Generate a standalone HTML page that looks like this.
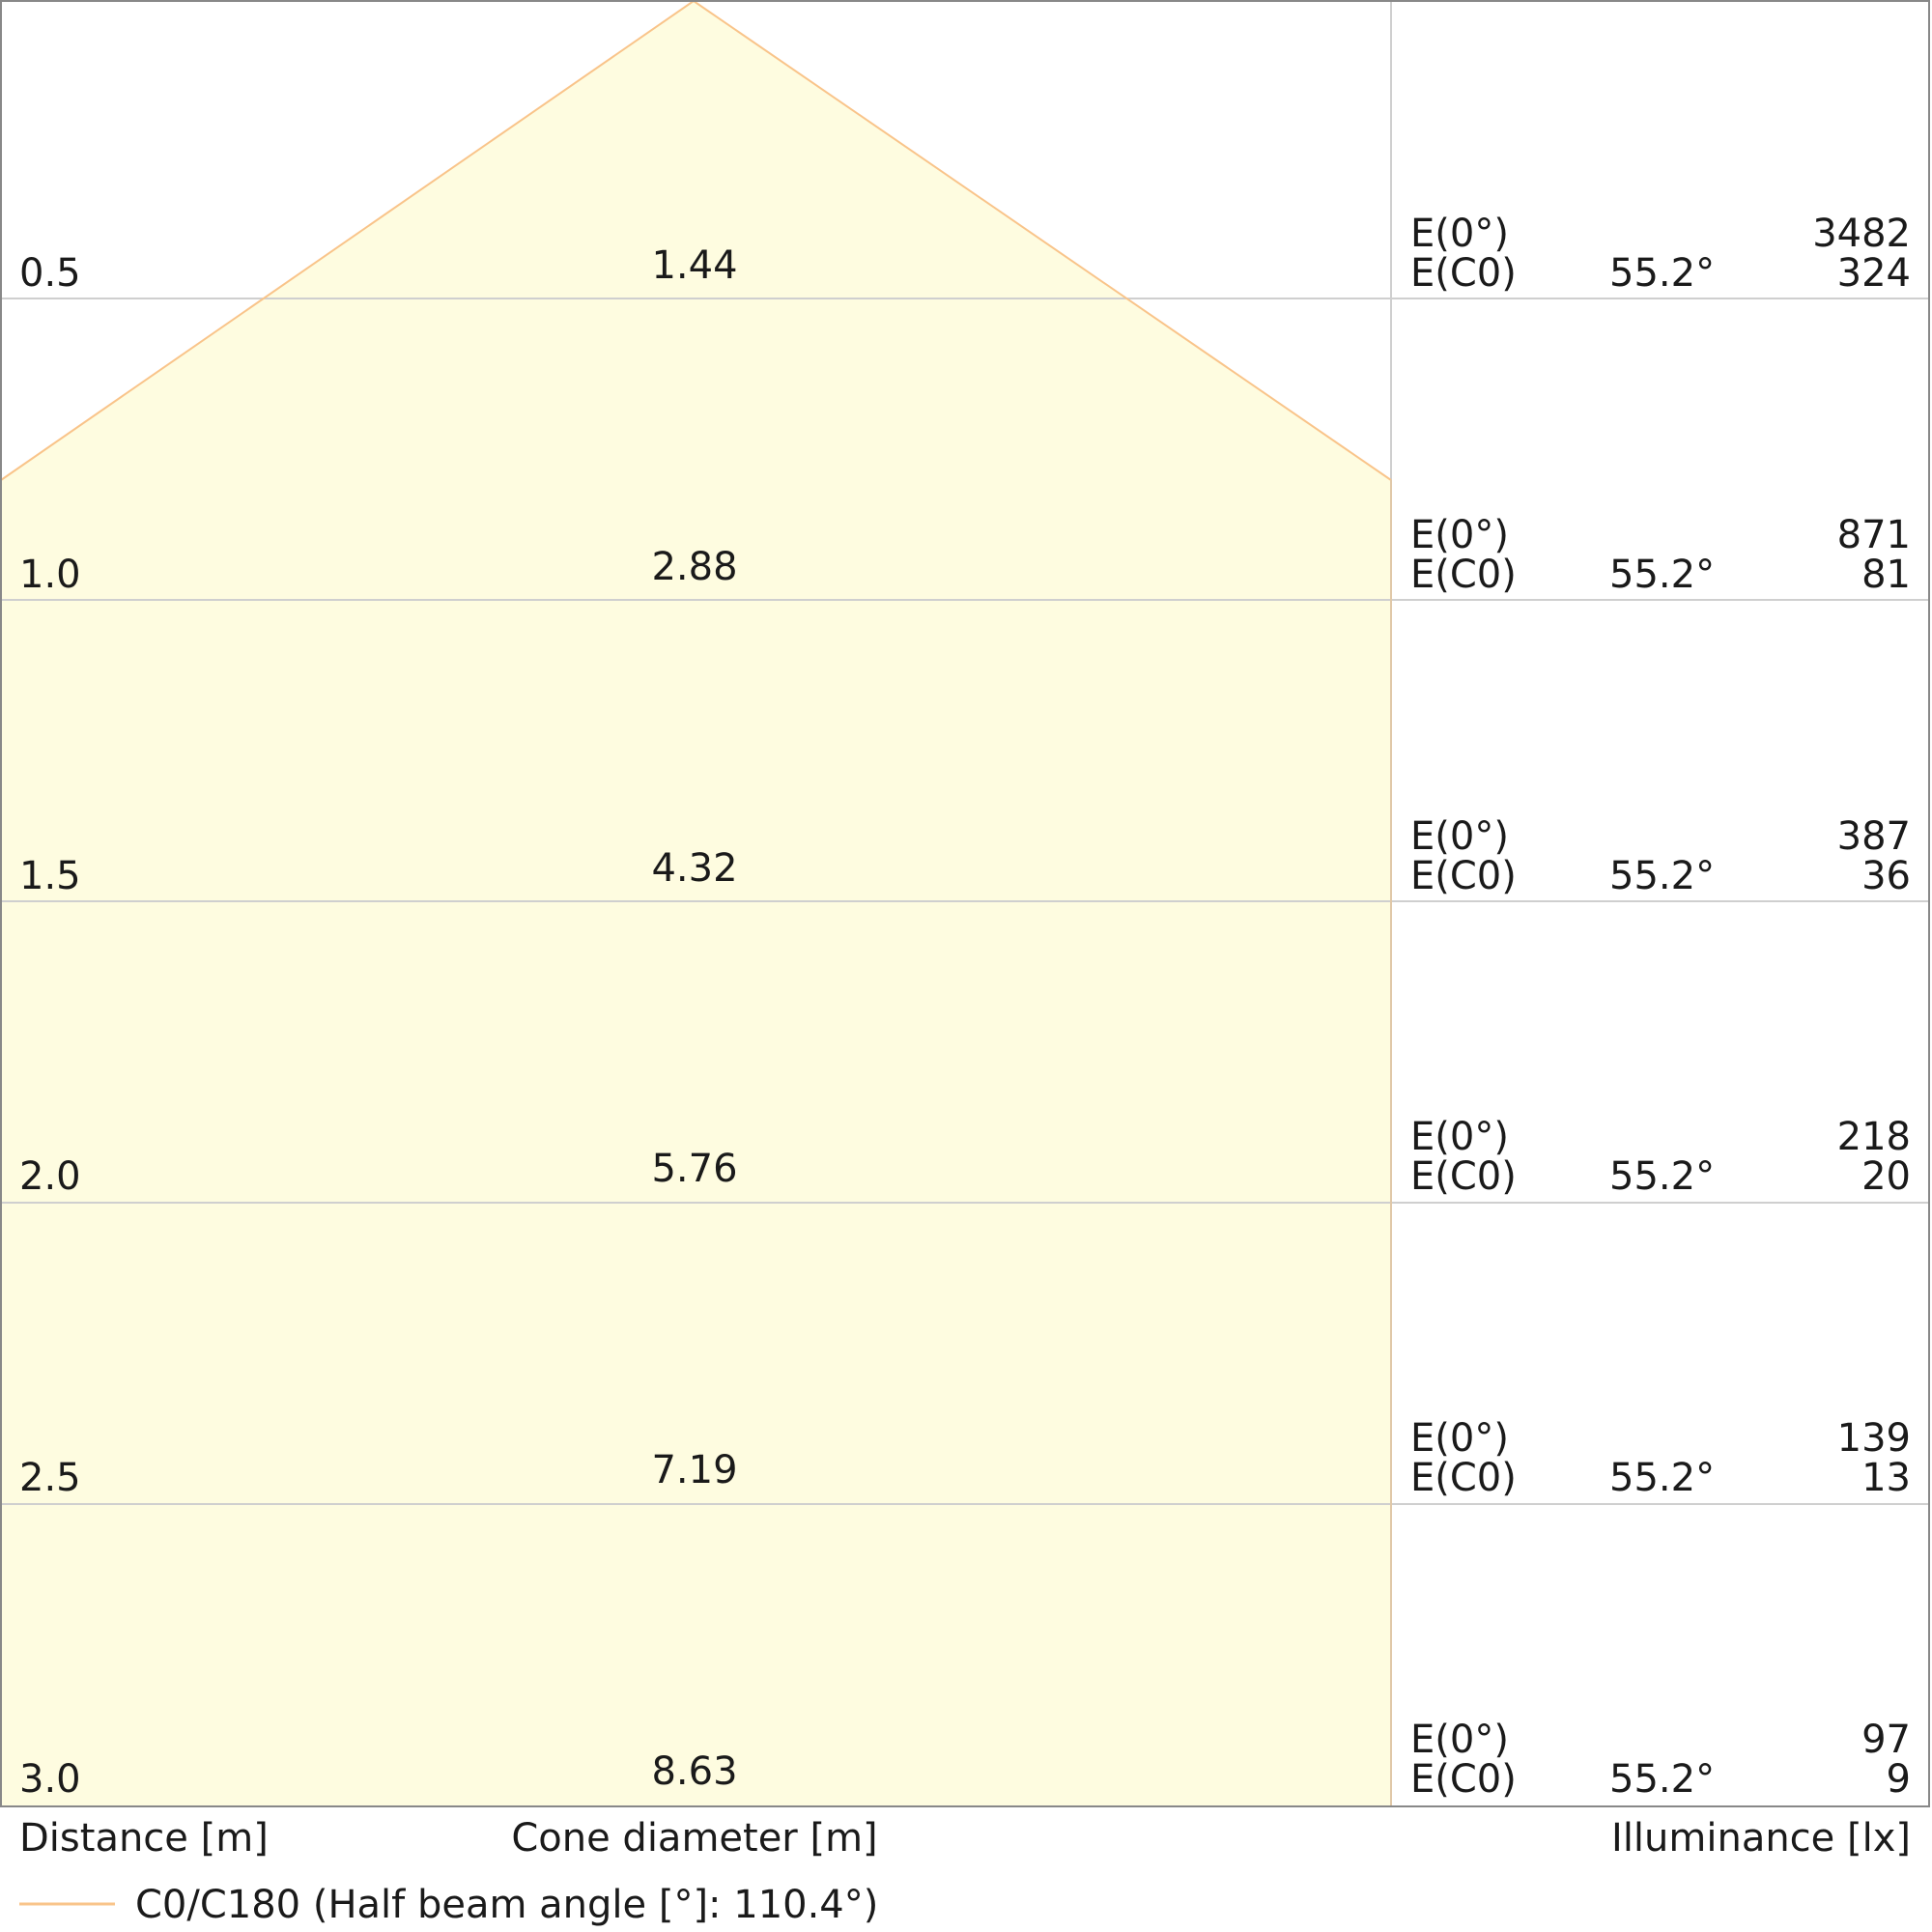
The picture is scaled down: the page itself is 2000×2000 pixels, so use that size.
<!DOCTYPE html>
<html><head><meta charset="utf-8"><style>
html,body{margin:0;padding:0;background:#fff;}
svg{display:block;}
text{font-family:"DejaVu Sans","Liberation Sans",sans-serif;font-size:40px;fill:#1a1a1a;}
</style></head><body>
<svg width="2000" height="2000" viewBox="0 0 2000 2000" xmlns="http://www.w3.org/2000/svg">
<rect width="2000" height="2000" fill="#fff"/>
<polygon points="1,497 718,1 1440,497 1440,1870 1,1870" fill="#fefce0"/>
<g stroke="#cfcfcf" stroke-width="2">
<line x1="1" y1="309" x2="1997" y2="309"/>
<line x1="1" y1="621" x2="1997" y2="621"/>
<line x1="1" y1="933" x2="1997" y2="933"/>
<line x1="1" y1="1245" x2="1997" y2="1245"/>
<line x1="1" y1="1557" x2="1997" y2="1557"/>
<line x1="1440" y1="1" x2="1440" y2="1870"/>
</g>
<polyline points="1,497 718,1 1440,497" fill="none" stroke="#f9c48a" stroke-width="2"/>
<line x1="1440" y1="497" x2="1440" y2="1870" stroke="#e0c8a8" stroke-width="2"/>
<rect x="1" y="1" width="1996" height="1869" fill="none" stroke="#888" stroke-width="2"/>
<g>
<text x="20" y="296">0.5</text><text x="719" y="288" text-anchor="middle">1.44</text>
<text x="20" y="608">1.0</text><text x="719" y="600" text-anchor="middle">2.88</text>
<text x="20" y="920">1.5</text><text x="719" y="912" text-anchor="middle">4.32</text>
<text x="20" y="1231">2.0</text><text x="719" y="1223" text-anchor="middle">5.76</text>
<text x="20" y="1543">2.5</text><text x="719" y="1535" text-anchor="middle">7.19</text>
<text x="20" y="1855">3.0</text><text x="719" y="1847" text-anchor="middle">8.63</text>
</g>
<g>
<text x="1460" y="255">E(0°)</text><text x="1460" y="296">E(C0)</text><text x="1666" y="296">55.2°</text><text x="1978" y="255" text-anchor="end">3482</text><text x="1978" y="296" text-anchor="end">324</text>
<text x="1460" y="567">E(0°)</text><text x="1460" y="608">E(C0)</text><text x="1666" y="608">55.2°</text><text x="1978" y="567" text-anchor="end">871</text><text x="1978" y="608" text-anchor="end">81</text>
<text x="1460" y="879">E(0°)</text><text x="1460" y="920">E(C0)</text><text x="1666" y="920">55.2°</text><text x="1978" y="879" text-anchor="end">387</text><text x="1978" y="920" text-anchor="end">36</text>
<text x="1460" y="1190">E(0°)</text><text x="1460" y="1231">E(C0)</text><text x="1666" y="1231">55.2°</text><text x="1978" y="1190" text-anchor="end">218</text><text x="1978" y="1231" text-anchor="end">20</text>
<text x="1460" y="1502">E(0°)</text><text x="1460" y="1543">E(C0)</text><text x="1666" y="1543">55.2°</text><text x="1978" y="1502" text-anchor="end">139</text><text x="1978" y="1543" text-anchor="end">13</text>
<text x="1460" y="1814">E(0°)</text><text x="1460" y="1855">E(C0)</text><text x="1666" y="1855">55.2°</text><text x="1978" y="1814" text-anchor="end">97</text><text x="1978" y="1855" text-anchor="end">9</text>
</g>
<text x="20" y="1916">Distance [m]</text>
<text x="719" y="1916" text-anchor="middle">Cone diameter [m]</text>
<text x="1978" y="1916" text-anchor="end">Illuminance [lx]</text>
<line x1="20" y1="1971" x2="119" y2="1971" stroke="#f9c48a" stroke-width="3"/>
<text x="140" y="1985">C0/C180 (Half beam angle [°]: 110.4°)</text>
</svg>
</body></html>
